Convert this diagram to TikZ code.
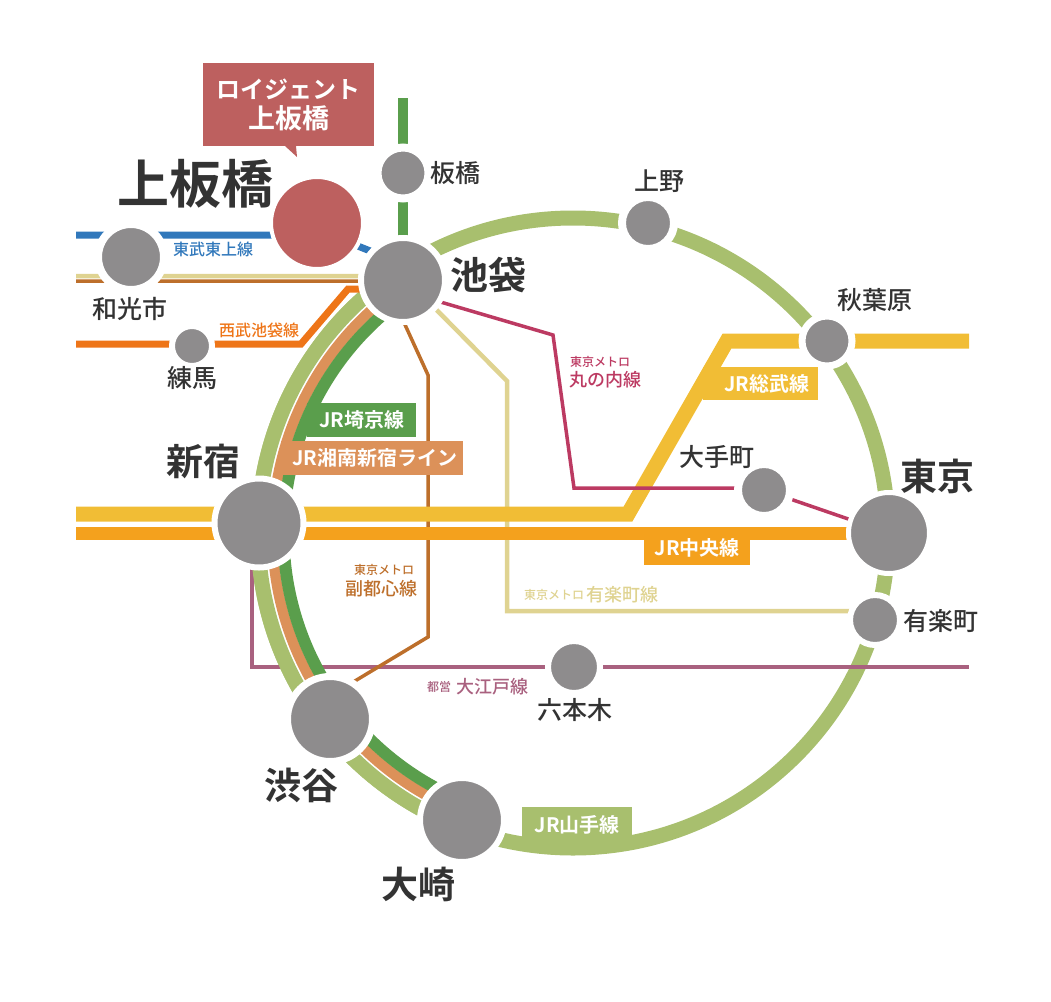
\documentclass[tikz,border=0pt]{standalone}
\usepackage{fontspec}
\setmainfont{Noto Sans CJK JP Medium}[BoldFont={Noto Sans CJK JP Bold}]
\usetikzlibrary{backgrounds}
\definecolor{yamacol}{HTML}{A8BF6E}
\definecolor{saikyocol}{HTML}{5A9E4C}
\definecolor{shonancol}{HTML}{DC9159}
\definecolor{sobucol}{HTML}{F1BD35}
\definecolor{chuocol}{HTML}{F4A11D}
\definecolor{tojocol}{HTML}{3178BB}
\definecolor{seibucol}{HTML}{EE7518}
\definecolor{yurakucol}{HTML}{DFD391}
\definecolor{fukucol}{HTML}{BD6F2B}
\definecolor{marucol}{HTML}{BC3A62}
\definecolor{oedocol}{HTML}{A9617F}
\definecolor{stncol}{HTML}{8E8C8D}
\definecolor{homecol}{HTML}{BD605F}
\definecolor{inkcol}{HTML}{333333}
\newcommand{\fsz}[1]{\fontsize{#1}{#1}\selectfont}
\tikzset{
  stn/.style 2 args={circle, fill=stncol, draw=white, inner sep=0pt, outer sep=0pt,
    line width=#2pt, minimum size=#1pt+#2pt},
  stnlabel/.style={text=inkcol, inner sep=0pt, font={\fsz{#1}}},
  bigstnlabel/.style={text=inkcol, inner sep=0pt, font={\fsz{#1}\bfseries}},
  rail/.style 2 args={draw=#1, line width=#2pt, line join=miter},
  linebox/.style={fill=#1, text=white, inner ysep=0pt, font={\fsz{20}\bfseries}},
  linelabel/.style={text=#1, inner sep=0pt, align=center}
}
\begin{document}
\begin{tikzpicture}[x=1pt, y=1pt]
    \useasboundingbox (0,0) rectangle (1051,-1001);
    \coordinate (ring) at (573,-533);

    % stations
    \node [stn={88}{4}, fill=homecol] (kami) at (317,-223) {};
    \node [stn={43}{8}] (ita) at (403,-173) {};
    \node [stn={78}{6}] (ike) at (403,-280) {};
    \node [stn={58}{8}] (wako) at (131,-257) {};
    \node [stn={34}{6}] (neri) at (192,-346) {};
    \node [stn={83}{6}] (shin) at (259,-523) {};
    \node [stn={78}{7}] (shibu) at (330,-719) {};
    \node [stn={78}{6}] (osaki) at (462,-820) {};
    \node [stn={44}{8}] (ueno) at (648,-223) {};
    \node [stn={43}{7}] (aki) at (827,-341) {};
    \node [stn={76}{5}] (tokyo) at (889,-533) {};
    \node [stn={44}{8}] (ote) at (764,-490) {};
    \node [stn={44}{6}] (yura) at (875,-620) {};
    \node [stn={46}{6}] (rop) at (574,-667) {};

    % free ends of the lines
    \coordinate (tojow) at (76,-235);
    \coordinate (tojob) at (330,-235);
    \coordinate (yurakw) at (76,-276);
    \coordinate (fukuw) at (76,-281);
    \coordinate (seibuw) at (76,-344);
    \coordinate (sobuw) at (76,-514);
    \coordinate (chuow) at (76,-533);
    \coordinate (sobue) at (969,-341);
    \coordinate (oedoe) at (969,-667);
    \coordinate (saikyon) at (403,-98);

    \begin{pgfonlayer}{background}
        \draw [rail={yamacol}{15}] (ring) circle [radius=315];
        \draw [rail={oedocol}{3.5}] ([xshift=-7pt]shin.center) -- (252,-667) -- (oedoe);
        \draw [rail={white}{20}] ([shift={(124:312)}]ring) arc [start angle=124, end angle=249, radius=312];
        \draw [rail={yamacol}{15}] ([shift={(124:315)}]ring) arc [start angle=124, end angle=249, radius=315];
        \draw [rail={shonancol}{10.5}] ([shift={(124:300.5)}]ring) arc [start angle=124, end angle=249, radius=300.5];
        \draw [rail={saikyocol}{12}] ([shift={(124:289.5)}]ring) arc [start angle=124, end angle=249, radius=289.5];
        \draw [rail={saikyocol}{10}] (saikyon) -- (ita.center) -- (ike.center);
        \draw [rail={yurakucol}{4.5}] (yurakw) -- ([yshift=4pt]ike.center) -- (507,-381) -- (507,-611) -- ([yshift=9pt]yura.center);
        \draw [rail={fukucol}{3.5}] (fukuw) -- ([shift={(-18pt,-1pt)}]ike.center) -- (428,-375) -- (428,-637) -- ([yshift=23pt]shibu.center);
        \draw [rail={seibucol}{7}] (seibuw) -- (301,-344) -- (348,-289) -- ([yshift=-9pt]ike.center);
        \draw [rail={tojocol}{7}] (tojow) -- (tojob) -- ([yshift=16pt]ike.center);
        \draw [rail={sobucol}{15}] (sobuw) -- (628,-514) -- (727,-341) -- (sobue);
        \draw [rail={chuocol}{13}] (chuow) -- (tokyo.center);
        \draw [rail={marucol}{3.5}] ([yshift=-11pt]ike.center) -- (553,-335) -- (574,-488) -- ([yshift=2pt]ote.center);
        \draw [rail={marucol}{3.5}] (ote.center) -- (tokyo.center);
    \end{pgfonlayer}

    % line boxes
    \node [linebox=saikyocol, anchor=north west, minimum height=34pt, text width=85pt, inner xsep=12pt, align=left] (saikyobox) at (307,-403) {JR埼京線};
    \node [linebox=shonancol, anchor=north west, minimum height=34pt, text width=170pt, inner xsep=6pt, align=right] (shonanbox) at (281,-441) {JR湘南新宿ライン};
    \node [linebox=sobucol, anchor=north west, minimum height=33pt, text width=97pt, inner xsep=9pt, align=right] (sobubox) at (703,-367) {JR総武線};
    \node [linebox=chuocol, anchor=north west, minimum height=34pt, text width=86pt, inner xsep=10pt, align=center] (chuobox) at (644,-531) {JR中央線};
    \node [linebox=yamacol, anchor=north west, minimum height=35pt, text width=90pt, inner xsep=10pt, align=center] (yamabox) at (522,-807) {JR山手線};

    % line names
    \node [linelabel=tojocol, font={\fsz{16}}] (tojolbl) at (213,-249) {東武東上線};
    \node [linelabel=seibucol, font={\fsz{16}}] (seibulbl) at (259,-330) {西武池袋線};
    \node [linelabel=fukucol, font={\fsz{12}}] (fukulbl) at (384,-570) {東京メトロ};
    \node [linelabel=fukucol, font={\fsz{18}}] (fukulbl2) at (381,-589) {副都心線};
    \node [linelabel=marucol, font={\fsz{12}}] (marulbl) at (600,-362) {東京メトロ};
    \node [linelabel=marucol, font={\fsz{18}}] (marulbl2) at (605,-380) {丸の内線};
    \node [linelabel=yurakucol, font={\fsz{12}}] (yurakulbl) at (554,-595) {東京メトロ};
    \node [linelabel=yurakucol, font={\fsz{18}}] (yurakulbl2) at (622,-595) {有楽町線};
    \node [linelabel=oedocol, font={\fsz{12}}] (oedolbl) at (439,-687) {都営};
    \node [linelabel=oedocol, font={\fsz{18}}] (oedolbl2) at (492,-687) {大江戸線};

    % station names
    \node [bigstnlabel=52] (kamilbl) at (195,-184) {上板橋};
    \node [stnlabel=25] (italbl) at (455,-173) {板橋};
    \node [bigstnlabel=38] (ikelbl) at (488,-275) {池袋};
    \node [stnlabel=25] (wakolbl) at (130,-309) {和光市};
    \node [stnlabel=25] (nerilbl) at (192,-378) {練馬};
    \node [bigstnlabel=37] (shinlbl) at (203,-461) {新宿};
    \node [bigstnlabel=37] (shibulbl) at (301,-785) {渋谷};
    \node [bigstnlabel=37] (osakilbl) at (418,-884) {大崎};
    \node [stnlabel=25] (roplbl) at (575,-710) {六本木};
    \node [stnlabel=25] (uenolbl) at (659,-181) {上野};
    \node [stnlabel=25] (akilbl) at (875,-300) {秋葉原};
    \node [stnlabel=25] (otelbl) at (717,-457) {大手町};
    \node [bigstnlabel=37] (tokyolbl) at (937,-476) {東京};
    \node [stnlabel=25] (yuralbl) at (941,-621) {有楽町};

    % callout
    \fill [homecol] (285,-146) -- (297,-157) -- (296,-146) -- cycle;
    \node [fill=homecol, text=white, anchor=north west, minimum width=171pt, minimum height=83pt, inner sep=0pt, align=center, font=\bfseries] (callout) at (203,-63) {{\fsz{24}ロイジェント}\\[5pt]{\fsz{27}上板橋}};
\end{tikzpicture}
\end{document}
